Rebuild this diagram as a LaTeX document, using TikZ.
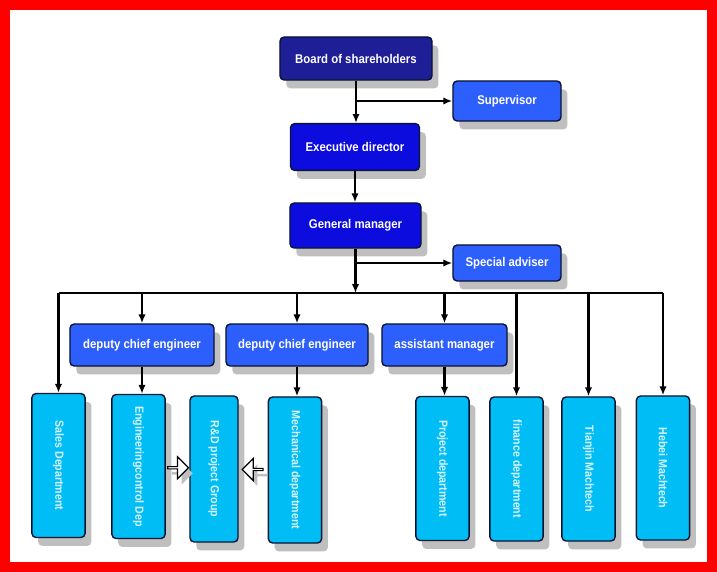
\documentclass[tikz,border=0pt]{standalone}
\usepackage{fontspec}
\setmainfont[FakeStretch=0.9]{Liberation Sans}
\usepackage{xcolor}
\usepackage{tikz}
\usetikzlibrary{positioning, arrows.meta, shapes.arrows, shadows, calc}

\definecolor{navyfill}{RGB}{30,30,150}
\definecolor{royalfill}{RGB}{12,12,222}
\definecolor{skyfill}{RGB}{45,95,252}
\definecolor{cyanfill}{RGB}{0,190,245}
\definecolor{edgecol}{RGB}{10,20,50}

\begin{document}
\begin{tikzpicture}[
    x=0.025cm, y=-0.025cm,
    box/.style = {
        rectangle, rounded corners=3pt, draw=edgecol, line width=1pt,
        align=center, font=\fontsize{9}{10}\selectfont\bfseries, text=white,
        inner sep=2pt,
        drop shadow={shadow xshift=4.5pt, shadow yshift=-6pt, fill=black!25, opacity=1}
    },
    headbox/.style = {box, fill=navyfill},
    mainbox/.style = {box, fill=royalfill},
    sidebox/.style = {box, fill=skyfill},
    deptbox/.style = {
        box, fill=cyanfill,
        minimum width=1.33cm, minimum height=3.6cm
    },
    deptlabel/.style = {rotate=-90, font=\fontsize{8.4}{9}\selectfont\bfseries, text=white!85!cyan},
    hollow/.style = {
        single arrow, draw=black, fill=white, line width=0.8pt,
        minimum height=0.52cm, minimum width=0.55cm, inner sep=0pt,
        single arrow head extend=0.12cm,
        drop shadow={shadow xshift=3pt, shadow yshift=-4pt, fill=black!25, opacity=1}
    },
    line/.style = {line width=1.5pt, draw=black},
    arrow/.style = {line, -{Latex[length=2.2mm, width=1.8mm]}}
]

% ── Frame ──
\fill[red] (0,0) rectangle (717,572);
\fill[white] (10,10) rectangle (707,562);

% ── Top of the chart ──
\node[headbox, minimum width=3.8cm, minimum height=1.075cm] (board) at (356,58.5) {Board of shareholders};
\node[sidebox, minimum width=2.7cm, minimum height=1cm] (sup) at (507,101) {Supervisor};
\node[mainbox, minimum width=3.225cm, minimum height=1.17cm] (exec) at (355,147) {Executive director};
\node[mainbox, minimum width=3.275cm, minimum height=1.125cm] (gm) at (355.5,225.5) {General manager};
\node[sidebox, minimum width=2.7cm, minimum height=0.9cm] (adv) at (507,263) {Special adviser};

% ── Middle row ──
\node[sidebox, minimum width=3.6cm, minimum height=1.05cm] (dce1) at (142,345) {deputy chief engineer};
\node[sidebox, minimum width=3.55cm, minimum height=1.05cm] (dce2) at (297,345) {deputy chief engineer};
\node[sidebox, minimum width=3.125cm, minimum height=1.05cm] (asst) at (444.5,345) {assistant manager};

% ── Departments ──
\node[deptbox] (sales) at (58.5,465.5) {};
\node[deptbox] (eng) at (138.5,466.5) {};
\node[deptbox, minimum width=1.2cm, minimum height=3.65cm] (rnd) at (214,469) {};
\node[deptbox, minimum height=3.65cm] (mech) at (295,470) {};
\node[deptbox] (proj) at (442.5,468.5) {};
\node[deptbox] (fin) at (516.5,469) {};
\node[deptbox] (tj) at (588.5,469) {};
\node[deptbox] (hb) at (663,468) {};

\node[deptlabel] at (sales) {Sales Department};
\node[deptlabel] at (eng) {Engineeringcontrol Dep};
\node[deptlabel] at (rnd) {R\&D project Group};
\node[deptlabel] at (mech) {Mechanical department};
\node[deptlabel] at (proj) {Project department};
\node[deptlabel] at (fin) {finance department};
\node[deptlabel] at (tj) {Tianjin Machtech};
\node[deptlabel] at (hb) {Hebei Machtech};

% ── Hollow arrows into R&D ──
\node[hollow] (engtornd) at ($(eng.east)!0.5!(rnd.west)$) {};
\node[hollow, shape border rotate=180] (mechtornd) at ($(mech.west)!0.5!(rnd.east)$) {};

% ── Connectors ──
\coordinate (bus) at (355.5,293);
\draw[arrow] (board.south) -- (board.south |- exec.north);
\draw[arrow] (board.south |- sup.west) -- (sup.west);
\draw[arrow] (exec.south) -- (exec.south |- gm.north);
\draw[arrow] (gm.south) -- (gm.south |- bus);
\draw[arrow] (gm.south |- adv.west) -- (adv.west);
\draw[line] (sales.north |- bus) -- (hb.north |- bus);

\draw[arrow] (sales.north |- bus) -- (sales.north);
\draw[arrow] (dce1.north |- bus) -- (dce1.north);
\draw[arrow] (dce2.north |- bus) -- (dce2.north);
\draw[arrow] (asst.north |- bus) -- (asst.north);
\draw[arrow] (fin.north |- bus) -- (fin.north);
\draw[arrow] (tj.north |- bus) -- (tj.north);
\draw[arrow] (hb.north |- bus) -- (hb.north);

\draw[arrow] (dce1.south) -- (dce1.south |- eng.north);
\draw[arrow] (dce2.south) -- (dce2.south |- mech.north);
\draw[arrow] (asst.south) -- (asst.south |- proj.north);

\end{tikzpicture}
\end{document}
